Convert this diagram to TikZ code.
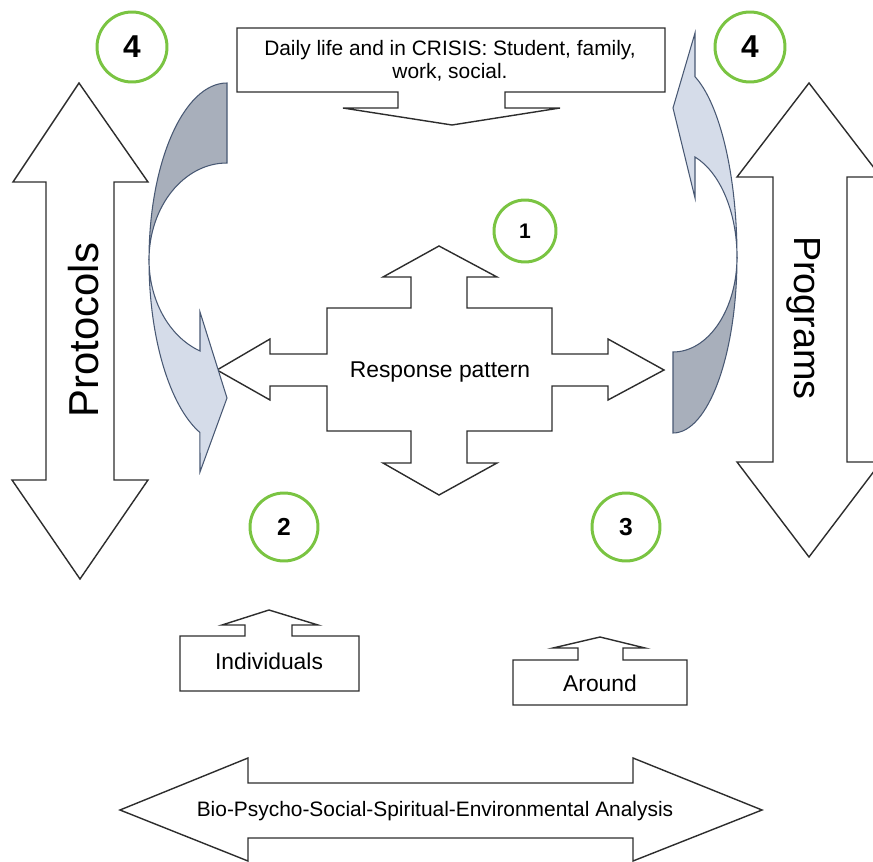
\documentclass[tikz,border=0pt]{standalone}
\usepackage{fontspec}
\setmainfont{Liberation Sans}
\definecolor{ringgreen}{RGB}{122,196,66}
\definecolor{bandback}{RGB}{168,175,187}
\definecolor{bandfront}{RGB}{213,220,233}
\definecolor{bandline}{RGB}{72,88,115}
\definecolor{shapeline}{RGB}{45,45,45}
\begin{document}
\begin{tikzpicture}[x=0.02cm,y=-0.02cm,
        outline/.style={draw=shapeline,line width=0.8pt,fill=white},
        ring/.style={circle,draw=ringgreen,line width=1.7pt,inner sep=0pt},
        backpart/.style={draw=bandline,line width=0.6pt,fill=bandback},
        frontpart/.style={draw=bandline,line width=0.6pt,fill=bandfront}]
    \useasboundingbox (0,0) rectangle (873,862);
    \clip (0,0) rectangle (873,862);
    \draw[outline] (79,83) -- (148,182) -- (114,182) -- (114,480) -- (148,480) -- (80,579) -- (12,480) -- (46,480) -- (46,182) -- (13,182) -- cycle;
    \draw[outline] (809,83) -- (881,177) -- (847,177) -- (847,462) -- (881,462) -- (809,557) -- (737,462) -- (773,462) -- (773,177) -- (737,177) -- cycle;
    \draw[outline] (237,28) -- (665,28) -- (665,92) -- (505,92) -- (505,108) -- (560,108) -- (452,125) -- (343,108) -- (398,108) -- (398,92) -- (237,92) -- cycle;
    \draw[outline] (439,246) -- (497,277) -- (467,277) -- (467,308) -- (552,308) -- (552,354) -- (608,354) -- (608,339) -- (664,370) -- (608,400) -- (608,386) -- (552,386) -- (552,431) -- (467,431) -- (467,463) -- (497,463) -- (439,495) -- (383,463) -- (411,463) -- (411,431) -- (327,431) -- (327,386) -- (270,386) -- (270,400) -- (217,370) -- (270,339) -- (270,354) -- (327,354) -- (327,308) -- (411,308) -- (411,277) -- (383,277) -- cycle;
    \draw[outline] (180,636) -- (245,636) -- (245,625) -- (222,625) -- (269,610) -- (318,625) -- (292,625) -- (292,636) -- (359,636) -- (359,691) -- (180,691) -- cycle;
    \draw[outline] (513,660) -- (578,660) -- (578,648) -- (553,648) -- (600,637) -- (645,648) -- (623,648) -- (623,660) -- (687,660) -- (687,705) -- (513,705) -- cycle;
    \draw[outline] (120,810) -- (248,758) -- (248,783) -- (633,783) -- (633,758) -- (762,810) -- (633,861) -- (633,838) -- (248,838) -- (248,861) -- cycle;
    % curved arrows
    \draw[backpart] (227,83) arc[start angle=270,end angle=180,x radius=78,y radius=177]
        arc[start angle=180,end angle=270,x radius=78,y radius=97] -- cycle;
    \draw[frontpart] (149,260) arc[start angle=180,end angle=110.3,x radius=78,y radius=184]
        -- (200,472) -- (227,398) -- (200,312) -- (200,351)
        arc[start angle=110.3,end angle=180,x radius=78,y radius=97] -- cycle;
    \draw[backpart] (673,433) arc[start angle=90,end angle=0,x radius=64,y radius=176]
        arc[start angle=0,end angle=90,x radius=64,y radius=95] -- cycle;
    \draw[frontpart] (737,257) arc[start angle=360,end angle=290.1,x radius=64,y radius=192]
        -- (695,33) -- (673,108) -- (695,198) -- (695,157)
        arc[start angle=290.1,end angle=360,x radius=64,y radius=106.5] -- cycle;
    \node[align=center,font=\fontsize{11.9}{13}\selectfont] (daily) at (450,61) {Daily life and in CRISIS: Student, family,\\work, social.};
    \node[font=\fontsize{13}{15}\selectfont] (resp) at (440,372) {Response pattern};
    \node[font=\fontsize{13}{15}\selectfont] (indiv) at (269,661) {Individuals};
    \node[font=\fontsize{13}{15}\selectfont] (around) at (600,683) {Around};
    \node[font=\fontsize{11.9}{13}\selectfont] (bio) at (435,811) {Bio-Psycho-Social-Spiritual-Environmental Analysis};
    \node[rotate=90,font=\fontsize{23.8}{26}\selectfont] (prot) at (84,330) {Protocols};
    \node[rotate=-90,font=\fontsize{21.5}{24}\selectfont] (prog) at (804,318) {Programs};
    \node[ring,minimum size=1.4cm,font=\bfseries\fontsize{18}{18}\selectfont] (ringleft) at (132,47) {4};
    \node[ring,minimum size=1.4cm,font=\bfseries\fontsize{18}{18}\selectfont] (ringright) at (750,47) {4};
    \node[ring,minimum size=1.24cm,font=\bfseries\fontsize{12}{12}\selectfont] (ringone) at (525,231) {1};
    \node[ring,minimum size=1.36cm,font=\bfseries\fontsize{14}{14}\selectfont] (ringtwo) at (284,527) {2};
    \node[ring,minimum size=1.36cm,font=\bfseries\fontsize{14}{14}\selectfont] (ringthree) at (626,527) {3};
\end{tikzpicture}
\end{document}
